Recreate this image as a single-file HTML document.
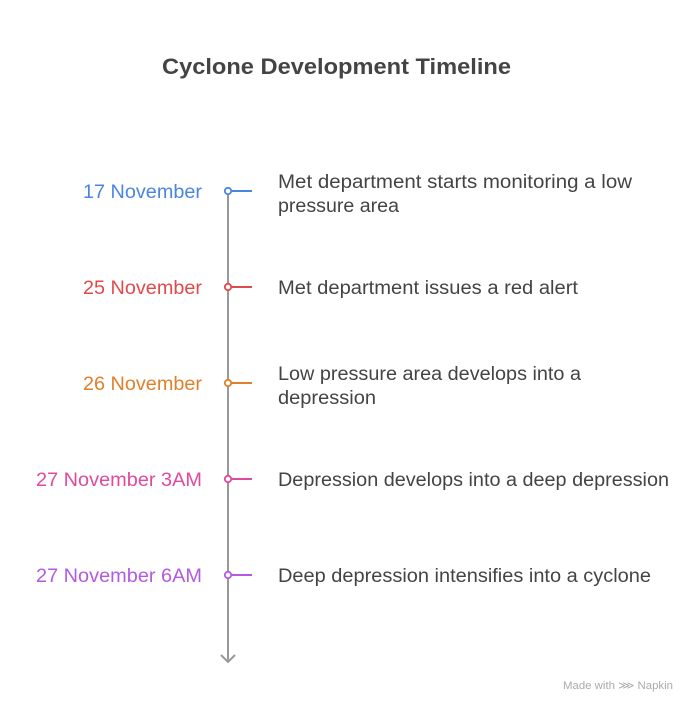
<!DOCTYPE html>
<html><head><meta charset="utf-8"><style>
html,body{margin:0;padding:0;background:#fff;}
svg{display:block;font-family:"Liberation Sans",sans-serif;}
</style></head><body>
<svg width="696" height="713" viewBox="0 0 696 713" xmlns="http://www.w3.org/2000/svg">
<text x="162" y="74" font-size="22" font-weight="bold" fill="#444" textLength="349" lengthAdjust="spacingAndGlyphs">Cyclone Development Timeline</text>
<line x1="228" y1="195" x2="228" y2="662" stroke="#999" stroke-width="2"/>
<polyline points="221,655 228,662 235,655" fill="none" stroke="#999" stroke-width="2"/>
<g font-size="19">
<line x1="231" y1="191" x2="252" y2="191" stroke="#4a86e0" stroke-width="2"/>
<circle cx="228" cy="191" r="3.2" fill="#fff" stroke="#4a86e0" stroke-width="1.8"/>
<text x="83" y="198" fill="#4a86e0" textLength="119" lengthAdjust="spacingAndGlyphs">17 November</text>
<text x="278" y="188" fill="#444" textLength="354" lengthAdjust="spacingAndGlyphs">Met department starts monitoring a low</text>
<text x="278" y="212" fill="#444" textLength="121" lengthAdjust="spacingAndGlyphs">pressure area</text>

<line x1="231" y1="287" x2="252" y2="287" stroke="#e04a4a" stroke-width="2"/>
<circle cx="228" cy="287" r="3.2" fill="#fff" stroke="#e04a4a" stroke-width="1.8"/>
<text x="83" y="294" fill="#e04a4a" textLength="119" lengthAdjust="spacingAndGlyphs">25 November</text>
<text x="278" y="294" fill="#444" textLength="300" lengthAdjust="spacingAndGlyphs">Met department issues a red alert</text>

<line x1="231" y1="383" x2="252" y2="383" stroke="#e0802a" stroke-width="2"/>
<circle cx="228" cy="383" r="3.2" fill="#fff" stroke="#e0802a" stroke-width="1.8"/>
<text x="83" y="390" fill="#e0802a" textLength="119" lengthAdjust="spacingAndGlyphs">26 November</text>
<text x="278" y="380" fill="#444" textLength="303" lengthAdjust="spacingAndGlyphs">Low pressure area develops into a</text>
<text x="278" y="404" fill="#444" textLength="98" lengthAdjust="spacingAndGlyphs">depression</text>

<line x1="231" y1="479" x2="252" y2="479" stroke="#e04a9e" stroke-width="2"/>
<circle cx="228" cy="479" r="3.2" fill="#fff" stroke="#e04a9e" stroke-width="1.8"/>
<text x="36" y="486" fill="#e04a9e" textLength="166" lengthAdjust="spacingAndGlyphs">27 November 3AM</text>
<text x="278" y="486" fill="#444" textLength="391" lengthAdjust="spacingAndGlyphs">Depression develops into a deep depression</text>

<line x1="231" y1="575" x2="252" y2="575" stroke="#b45ae0" stroke-width="2"/>
<circle cx="228" cy="575" r="3.2" fill="#fff" stroke="#b45ae0" stroke-width="1.8"/>
<text x="36" y="582" fill="#b45ae0" textLength="166" lengthAdjust="spacingAndGlyphs">27 November 6AM</text>
<text x="278" y="582" fill="#444" textLength="373" lengthAdjust="spacingAndGlyphs">Deep depression intensifies into a cyclone</text>
</g>
<text x="563" y="689" font-size="11" fill="#aaa" textLength="110" lengthAdjust="spacingAndGlyphs">Made with ⋙ Napkin</text>
</svg>
</body></html>
